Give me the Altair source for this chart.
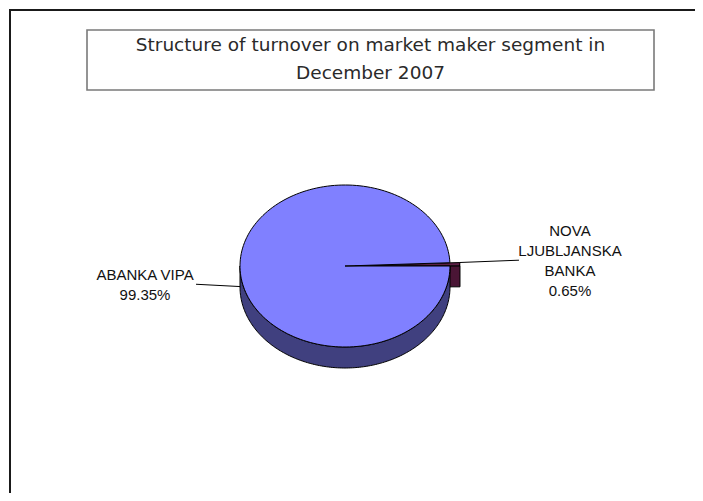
import altair as alt
import pandas as pd

# ---------------- data ----------------
banks = ["NOVA LJUBLJANSKA BANKA", "ABANKA VIPA"]
shares = [0.65, 99.35]
label_names = ["NOVA\nLJUBLJANSKA\nBANKA", "ABANKA VIPA"]
exploded = ["NOVA LJUBLJANSKA BANKA"]
title_lines = ["Structure of turnover on market maker segment in", "December 2007"]

# ---------------- layout / style ----------------
W, H = 687, 485          # fits 703x501 window with 8px page margins
CX, CY = 337, 258
RX, RY = 105, 81
DEPTH = 21
EXPLODE = 10
N = 180
LEAD = [59, 44]          # leader length per slice (layout)
LABEL_GAP = 51
LINE_H = 20
TOP_COLOR_BIG, SIDE_COLOR_BIG = "#8080FF", "#40407F"
TOP_COLOR_SMALL, SIDE_COLOR_SMALL = "#5C1F45", "#4A1535"

df = pd.DataFrame({"bank": banks, "share": shares, "lbl": label_names,
                   "ord": list(range(len(banks)))})

xs = alt.Scale(domain=[0, W], nice=False, zero=False)
ys = alt.Scale(domain=[0, H], nice=False, zero=False, reverse=True)

expl_list = "[" + ",".join("'" + b + "'" for b in exploded) + "]"

base = (
    alt.Chart(df)
    .transform_joinaggregate(total="sum(share)")
    .transform_window(cum="sum(share)", sort=[alt.SortField("ord", order="ascending")], frame=[None, 0])
    .transform_calculate(
        a0="2*PI*(datum.cum - datum.share)/datum.total",
        a1="2*PI*datum.cum/datum.total",
        ex=f"indexof({expl_list}, datum.bank) >= 0 ? {EXPLODE} : 0",
    )
    .transform_calculate(mid="(datum.a0 + datum.a1)/2")
    .transform_calculate(
        ox=f"{CX} + datum.ex*cos(datum.mid)",
        oy=f"{CY} - datum.ex*sin(datum.mid)*{RY}/{RX}",
    )
)

def poly(chart, fill):
    return chart.mark_line(strokeWidth=1, strokeJoin="round").encode(
        x=alt.X("px:Q", scale=xs, axis=None),
        y=alt.Y("py:Q", scale=ys, axis=None),
        detail="bank:N",
        order="k:Q",
        fill=alt.value(fill),
        stroke=alt.value("black"),
    )

# top faces
top = (
    base.transform_calculate(k=f"sequence(0, {N + 3})")
    .transform_flatten(["k"])
    .transform_calculate(
        t=f"datum.a0 + (datum.a1 - datum.a0)*(datum.k - 1)/{N}",
        edge=f"datum.k >= 1 && datum.k <= {N + 1}",
    )
    .transform_calculate(
        px=f"datum.edge ? datum.ox + {RX}*cos(datum.t) : datum.ox",
        py=f"datum.edge ? datum.oy - {RY}*sin(datum.t) : datum.oy",
    )
)

# visible outer wall (front half)
side = (
    base.transform_calculate(lo="max(datum.a0, PI)", hi="min(datum.a1, 2*PI)")
    .transform_filter("datum.hi > datum.lo")
    .transform_calculate(k=f"sequence(0, {2 * N + 3})")
    .transform_flatten(["k"])
    .transform_calculate(
        j=f"datum.k <= {N} ? datum.k : (datum.k <= {2 * N + 1} ? {2 * N + 1} - datum.k : 0)",
        down=f"(datum.k > {N} && datum.k <= {2 * N + 1}) ? {DEPTH} : 0",
    )
    .transform_calculate(t=f"datum.lo + (datum.hi - datum.lo)*datum.j/{N}")
    .transform_calculate(
        px=f"datum.ox + {RX}*cos(datum.t)",
        py=f"datum.oy - {RY}*sin(datum.t) + datum.down",
    )
)

# radial cut face of exploded slices (at start angle)
cut = (
    base.transform_filter("datum.ex > 0 && cos(datum.a0) > 0")
    .transform_calculate(k="sequence(0, 5)")
    .transform_flatten(["k"])
    .transform_calculate(
        rim="datum.k == 1 || datum.k == 2",
        down=f"(datum.k == 2 || datum.k == 3) ? {DEPTH} : 0",
    )
    .transform_calculate(
        px=f"datum.rim ? datum.ox + {RX}*cos(datum.a0) : datum.ox",
        py=f"(datum.rim ? datum.oy - {RY}*sin(datum.a0) : datum.oy) + datum.down",
    )
)

big = "datum.ex == 0"
small = "datum.ex > 0"

cut_l = poly(cut, SIDE_COLOR_SMALL)
small_top = poly(top.transform_filter(small), TOP_COLOR_SMALL)
big_side = poly(side.transform_filter(big), SIDE_COLOR_BIG)
big_top = poly(top.transform_filter(big), TOP_COLOR_BIG)

# labels & leader lines
lab = (
    base.transform_calculate(
        dir="cos(datum.mid) >= 0 ? 1 : -1",
        ax=f"datum.ox + {RX}*cos(datum.mid)",
        ay=f"datum.oy - {RY}*sin(datum.mid) + (sin(datum.mid) < 0 ? {DEPTH}*0.9 : -1.7)",
        lead=f"{LEAD}[datum.ord]",
        text="datum.lbl + '\\n' + format(datum.share/datum.total, '.2%')",
    )
    .transform_calculate(
        bx="datum.ax + datum.dir*datum.lead",
        by="datum.ay - 2.3",
        nl="length(split(datum.text, '\\n'))",
    )
    .transform_calculate(
        tx=f"datum.bx + datum.dir*{LABEL_GAP}",
        ty=f"datum.by + 1 - (datum.nl - 1)*{LINE_H}/2",
    )
)

leaders = lab.mark_rule(color="black", strokeWidth=1).encode(
    x=alt.X("ax:Q", scale=xs, axis=None),
    y=alt.Y("ay:Q", scale=ys, axis=None),
    x2="bx:Q",
    y2="by:Q",
)
labels = lab.mark_text(
    font="Liberation Sans", fontSize=15, color="#111111", align="center",
    baseline="middle", lineBreak="\n", lineHeight=LINE_H,
).encode(
    x=alt.X("tx:Q", scale=xs, axis=None),
    y=alt.Y("ty:Q", scale=ys, axis=None),
    text="text:N",
)

one = pd.DataFrame({"k": [0]})
frame = alt.Chart(one).mark_rect(fill="white", stroke="#1a1a1a", strokeWidth=2).encode(
    x=alt.value(2), x2=alt.value(W + 20), y=alt.value(2), y2=alt.value(H + 20)
)
title_box = alt.Chart(one).mark_rect(fill="white", stroke="#7a7a7a", strokeWidth=1.6).encode(
    x=alt.value(79), x2=alt.value(646), y=alt.value(22), y2=alt.value(82)
)
title = alt.Chart(one).mark_text(
    font="DejaVu Sans", fontSize=18.5, color="#2a2a2a", align="center",
    baseline="middle", lineHeight=28,
).encode(x=alt.value(362.5), y=alt.value(37), text=alt.value(title_lines))

chart = alt.layer(
    frame, title_box, title, cut_l, small_top, big_side, big_top, leaders, labels
).properties(
    width=W, height=H, padding=0, autosize=alt.AutoSizeParams(type="none"),
    background="white",
).configure_view(stroke=None)

chart.save("out.html", embed_options={"renderer": "svg", "actions": False})
